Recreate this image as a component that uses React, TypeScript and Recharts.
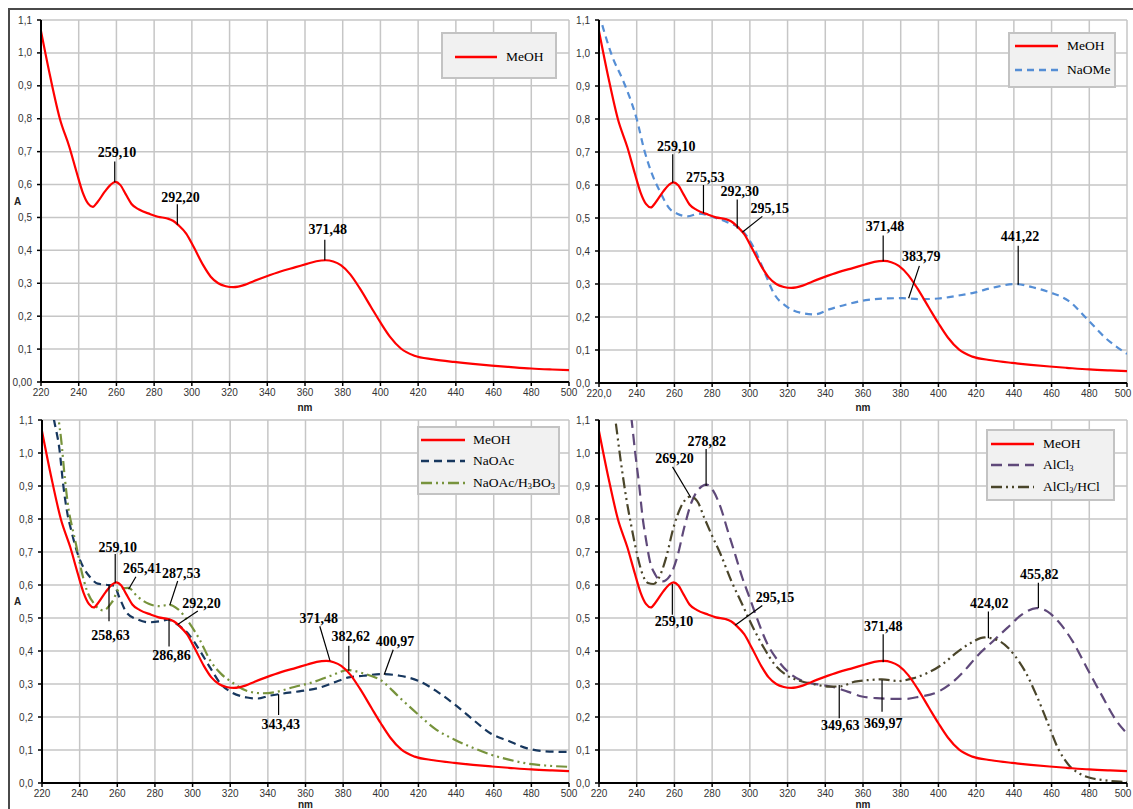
import React from 'react';
import { LineChart, Line, XAxis, YAxis, CartesianGrid, ReferenceLine, ReferenceDot } from 'recharts';

// ---------- axis ticks ----------
const xTicks = [220, 240, 260, 280, 300, 320, 340, 360, 380, 400, 420, 440, 460, 480, 500];
const yTicks = [0, 0.1, 0.2, 0.3, 0.4, 0.5, 0.6, 0.7, 0.8, 0.9, 1.0, 1.1];

// ---------- spectra (nm, absorbance) ----------
const meohNm = [220, 225, 230, 235, 239, 242, 245, 247.5, 250, 254, 257, 259.5, 262, 265, 268, 272, 278, 282, 287, 290, 293, 297, 301, 306, 310, 314, 318, 322, 328, 333, 339, 347, 355, 361, 366, 371, 375, 379, 384, 389, 395, 400, 405, 411, 418, 428, 439, 449, 459, 468, 480, 491, 500];
const meohAbs = [1.066, 0.925, 0.8, 0.715, 0.635, 0.578, 0.542, 0.532, 0.547, 0.58, 0.6, 0.608, 0.599, 0.57, 0.541, 0.524, 0.51, 0.502, 0.497, 0.49, 0.476, 0.451, 0.41, 0.355, 0.32, 0.3, 0.291, 0.288, 0.295, 0.307, 0.32, 0.336, 0.349, 0.359, 0.367, 0.37, 0.366, 0.355, 0.327, 0.285, 0.228, 0.181, 0.138, 0.101, 0.08, 0.069, 0.061, 0.055, 0.05, 0.046, 0.041, 0.038, 0.036];

const naomeNm = [220, 223, 227, 232.5, 236, 240, 244, 248, 252, 257.5, 261.5, 267, 273, 280.5, 288, 296, 302, 307.5, 313, 319, 327, 334.5, 342, 352, 361.5, 371, 381, 390, 400, 409.5, 419, 429, 441, 450, 459.5, 469, 479, 488.5, 500];
const naomeAbs = [1.12, 1.06, 0.99, 0.92, 0.87, 0.8, 0.706, 0.635, 0.584, 0.528, 0.513, 0.505, 0.513, 0.503, 0.487, 0.462, 0.411, 0.34, 0.269, 0.234, 0.213, 0.208, 0.223, 0.239, 0.251, 0.256, 0.257, 0.254, 0.256, 0.264, 0.274, 0.289, 0.3, 0.29, 0.274, 0.249, 0.193, 0.137, 0.088];

const naoacNm = [224, 226.4, 229.3, 231.2, 233.2, 236, 239, 242, 245.7, 249.6, 255.4, 258.3, 261.2, 265, 271, 276.7, 282.5, 287, 292, 298, 304, 309.5, 315.3, 321, 329, 334.7, 340.5, 348, 358, 367.6, 375.3, 383, 390.8, 400.4, 410, 419.8, 429.4, 439, 448.8, 458.4, 468, 477.8, 487.5, 500];
const naoacAbs = [1.18, 1.1, 1.01, 0.907, 0.826, 0.755, 0.694, 0.653, 0.623, 0.604, 0.6, 0.598, 0.561, 0.516, 0.495, 0.487, 0.49, 0.495, 0.48, 0.45, 0.4, 0.348, 0.298, 0.274, 0.259, 0.256, 0.264, 0.271, 0.279, 0.289, 0.305, 0.32, 0.325, 0.33, 0.325, 0.31, 0.279, 0.239, 0.193, 0.15, 0.127, 0.105, 0.096, 0.094];

const boricNm = [227, 228.9, 230.2, 232.2, 234.1, 236, 238, 240.9, 243.8, 247.7, 252.5, 257.3, 261.2, 266, 270.9, 276.7, 282.5, 287.5, 292, 298, 304, 309.5, 315.3, 321, 329, 336.6, 343.4, 354, 363.7, 373.4, 382.6, 390.8, 400.4, 410, 419.8, 429.4, 439, 448.8, 458.4, 468, 477.8, 487.5, 500];
const boricAbs = [1.22, 1.1, 1.04, 0.92, 0.83, 0.776, 0.725, 0.645, 0.584, 0.543, 0.523, 0.549, 0.589, 0.591, 0.564, 0.543, 0.536, 0.54, 0.528, 0.487, 0.432, 0.37, 0.33, 0.305, 0.279, 0.272, 0.275, 0.291, 0.305, 0.325, 0.342, 0.332, 0.31, 0.259, 0.208, 0.162, 0.132, 0.107, 0.086, 0.071, 0.059, 0.053, 0.049];

const alcl3Nm = [236, 237.3, 239.2, 241.2, 243.1, 245, 247, 249.8, 253.7, 257.5, 261.4, 265.2, 269, 272.9, 277, 280.6, 284.5, 288.3, 292.2, 296, 299.9, 303.7, 309.5, 315.3, 321, 326.8, 332.6, 338.4, 344.1, 351.8, 359.5, 367.2, 374.9, 382.6, 390.3, 398, 405.7, 413.4, 421.1, 428.8, 436.5, 444.2, 452, 457.7, 463.5, 471.2, 478.8, 486.5, 494.2, 500];
const alcl3Abs = [1.16, 1.1, 1.0, 0.908, 0.806, 0.735, 0.672, 0.632, 0.611, 0.627, 0.683, 0.774, 0.85, 0.89, 0.904, 0.885, 0.835, 0.764, 0.693, 0.622, 0.561, 0.5, 0.419, 0.368, 0.333, 0.312, 0.302, 0.297, 0.291, 0.277, 0.262, 0.257, 0.255, 0.255, 0.262, 0.272, 0.297, 0.338, 0.388, 0.429, 0.47, 0.51, 0.53, 0.52, 0.49, 0.429, 0.348, 0.267, 0.19, 0.15];

const alhclNm = [227, 228.7, 231.5, 234.4, 237.3, 240.2, 243.1, 246, 248.9, 251.8, 255.6, 259.5, 263.3, 268.5, 272, 275.8, 279.6, 284.5, 290.2, 296, 301.8, 307.5, 313.3, 319.1, 326.8, 334.5, 342.2, 348, 355.7, 363.4, 370, 378.7, 386.4, 394, 401.7, 409.4, 417.1, 424.5, 432.7, 440.2, 446, 451.9, 457.7, 463.5, 469.2, 475, 480.8, 488.5, 496.2, 500];
const alhclAbs = [1.17, 1.1, 0.977, 0.865, 0.774, 0.693, 0.632, 0.606, 0.603, 0.622, 0.683, 0.774, 0.835, 0.868, 0.855, 0.804, 0.754, 0.693, 0.612, 0.541, 0.47, 0.409, 0.358, 0.328, 0.309, 0.299, 0.292, 0.293, 0.307, 0.312, 0.314, 0.309, 0.317, 0.333, 0.358, 0.394, 0.424, 0.441, 0.429, 0.388, 0.338, 0.267, 0.186, 0.104, 0.054, 0.028, 0.015, 0.008, 0.004, 0.003];

// ---------- peak annotations: [label, pointNm, pointAbs, lineEndNm, lineEndAbs, textNm, textAbs] ----------
type Note = [string, number, number, number, number, number, number];
const notesTL: Note[] = [
  ['259,10', 259.1, 0.607, 259.1, 0.67, 260.3, 0.697],
  ['292,20', 292.3, 0.478, 292.3, 0.54, 294, 0.562],
  ['371,48', 370.5, 0.37, 370.5, 0.432, 372, 0.463],
];
const notesTR: Note[] = [
  ['259,10', 259.1, 0.607, 259.1, 0.693, 261, 0.716],
  ['275,53', 275.4, 0.515, 275.4, 0.6, 276.4, 0.624],
  ['292,30', 293.3, 0.468, 293.3, 0.556, 294.7, 0.58],
  ['295,15', 296, 0.457, 306.6, 0.505, 310.5, 0.529],
  ['371,48', 370.7, 0.369, 370.7, 0.447, 371.7, 0.474],
  ['383,79', 384.2, 0.257, 389.9, 0.355, 390.9, 0.383],
  ['441,22', 442.3, 0.298, 442.3, 0.416, 443.2, 0.444],
];
const notesBL: Note[] = [
  ['259,10', 258.9, 0.607, 258.9, 0.694, 260.2, 0.714],
  ['265,41', 266, 0.587, 269.9, 0.625, 273.2, 0.651],
  ['287,53', 287.9, 0.539, 292.1, 0.612, 294, 0.635],
  ['292,20', 292.1, 0.48, 302.8, 0.521, 304.7, 0.544],
  ['258,63', 255.6, 0.6, 255.6, 0.49, 256.4, 0.447],
  ['286,86', 287.5, 0.496, 287.5, 0.414, 288.8, 0.387],
  ['371,48', 373, 0.371, 367.6, 0.475, 367, 0.5],
  ['382,62', 383, 0.34, 383, 0.416, 384, 0.443],
  ['400,97', 401.8, 0.328, 406.6, 0.404, 407.6, 0.43],
  ['343,43', 345.7, 0.269, 345.7, 0.206, 346.9, 0.176],
];
const notesBR: Note[] = [
  ['278,82', 276.8, 0.9, 276.8, 1.012, 277.2, 1.035],
  ['269,20', 268.7, 0.865, 259, 0.958, 260, 0.982],
  ['295,15', 292.2, 0.478, 306.6, 0.538, 313.3, 0.561],
  ['259,10', 258.9, 0.603, 258.9, 0.51, 259.8, 0.49],
  ['371,48', 370.7, 0.366, 370.7, 0.451, 370.7, 0.475],
  ['349,63', 347.4, 0.297, 347.4, 0.196, 348, 0.173],
  ['369,97', 370.1, 0.312, 370.1, 0.216, 370.7, 0.181],
  ['424,02', 426.5, 0.439, 426.5, 0.52, 426.9, 0.543],
  ['455,82', 453, 0.53, 453, 0.607, 453.4, 0.632],
];

// ---------- series definitions ----------
type Series = { name: string; nm: number[]; abs: number[]; color: string; dash?: string };
const MEOH: Series = { name: 'MeOH', nm: meohNm, abs: meohAbs, color: '#FF0000' };
const NAOME: Series = { name: 'NaOMe', nm: naomeNm, abs: naomeAbs, color: '#558ED5', dash: '7 5' };
const NAOAC: Series = { name: 'NaOAc', nm: naoacNm, abs: naoacAbs, color: '#17375E', dash: '8 5' };
const BORIC: Series = { name: 'NaOAc/H3BO3', nm: boricNm, abs: boricAbs, color: '#77933C', dash: '11 4 2 4 2 4' };
const ALCL3: Series = { name: 'AlCl3', nm: alcl3Nm, abs: alcl3Abs, color: '#5F497A', dash: '11 6' };
const ALHCL: Series = { name: 'AlCl3/HCl', nm: alhclNm, abs: alhclAbs, color: '#4A452A', dash: '11 4 2 4 2 4' };

const toData = (s: Series) => s.nm.map((x, i) => ({ x, y: s.abs[i] }));

const SANS = 'Arial, "Liberation Sans", sans-serif';
const SERIF = '"Liberation Serif", "Times New Roman", serif';

function Chem({ text }: { text: string }) {
  const parts = text.split(/(\d)/);
  return (
    <>
      {parts.map((p, i) =>
        /\d/.test(p) ? (
          <sub key={i} style={{ fontSize: '0.62em', verticalAlign: '-0.2em', lineHeight: 0 }}>{p}</sub>
        ) : (
          <span key={i}>{p}</span>
        )
      )}
    </>
  );
}

type LegendCfg = { left: number; top: number; w: number; h: number; rows: number[]; lineX: number; lineW: number; textX: number };

function LegendBox({ cfg, items }: { cfg: LegendCfg; items: Series[] }) {
  return (
    <div
      style={{
        position: 'absolute', left: cfg.left, top: cfg.top, width: cfg.w, height: cfg.h,
        background: '#f1f1f1', border: '2px solid #c3c3c3', boxSizing: 'border-box',
      }}
    >
      {items.map((s, i) => (
        <div key={s.name} style={{ position: 'absolute', left: 0, top: cfg.rows[i] - 2 - 10, height: 20, width: '100%' }}>
          <svg style={{ position: 'absolute', left: cfg.lineX - 2, top: 0 }} width={cfg.lineW} height={20}>
            <line x1={0} y1={10} x2={cfg.lineW} y2={10} stroke={s.color} strokeWidth={2.5} strokeDasharray={s.dash} />
          </svg>
          <span style={{ position: 'absolute', left: cfg.textX - 2, top: 0, lineHeight: '20px', fontFamily: SERIF, fontSize: 13.5, color: '#000', whiteSpace: 'nowrap' }}>
            <Chem text={s.name} />
          </span>
        </div>
      ))}
    </div>
  );
}

type PanelCfg = {
  left: number; top: number; w: number; h: number;
  mr: number; yw: number; xh: number; nmOffset: number;
  zeroLabel: string; firstX: string; showA: boolean; lastShift: number;
};

function Panel({ cfg, series, notes }: { cfg: PanelCfg; series: Series[]; notes: Note[] }) {
  const yFmt = (v: number) => (v === 0 ? cfg.zeroLabel : v.toFixed(1).replace('.', ','));
  const xFmt = (v: number) => (v === 220 ? cfg.firstX : String(v));
  const xTick = (p: any) => {
    const v = p.payload.value;
    const dx = v === 500 ? cfg.lastShift : 0;
    return (
      <text x={p.x + dx} y={p.y} dy="0.71em" textAnchor="middle"
        style={{ fontSize: 10, fill: '#333', fontFamily: SANS }}>
        {xFmt(v)}
      </text>
    );
  };
  return (
    <div style={{ position: 'absolute', left: cfg.left, top: cfg.top }}>
      <LineChart width={cfg.w} height={cfg.h} margin={{ top: 12, right: cfg.mr, bottom: 0, left: 0 }}>
        <CartesianGrid stroke="#c6c6c6" strokeWidth={1.5} />
        <XAxis
          type="number" dataKey="x" domain={[220, 500]} ticks={xTicks} interval={0} allowDataOverflow
          height={cfg.xh} tick={xTick}
          axisLine={{ stroke: '#000', strokeWidth: 2 }} tickLine={{ stroke: '#000', strokeWidth: 1.5 }}
          tickSize={4} tickMargin={3}
          label={{ value: 'nm', position: 'insideBottom', offset: cfg.nmOffset, style: { fontSize: 10, fontWeight: 700, fill: '#222', fontFamily: SANS } }}
        />
        <YAxis
          type="number" domain={[0, 1.1]} ticks={yTicks} interval={0} allowDataOverflow
          width={cfg.yw} tickFormatter={yFmt}
          tick={{ fontSize: 10, fill: '#333', fontFamily: SANS }}
          axisLine={{ stroke: '#000', strokeWidth: 2 }} tickLine={{ stroke: '#000', strokeWidth: 1.5 }}
          tickSize={4} tickMargin={5}
          label={cfg.showA ? { value: 'A', position: 'insideLeft', offset: 6, style: { fontSize: 10, fontWeight: 700, fill: '#222', fontFamily: SANS } } : undefined}
        />
        {series.map((s) => (
          <Line
            key={s.name} data={toData(s)} dataKey="y" type="monotone" stroke={s.color} strokeWidth={2.2}
            strokeDasharray={s.dash} dot={false} activeDot={false} isAnimationActive={false}
          />
        ))}
        {notes.map((n, i) => (
          <ReferenceLine
            key={'l' + i} segment={[{ x: n[1], y: n[2] }, { x: n[3], y: n[4] }]}
            stroke="#000" strokeWidth={1.2} ifOverflow="visible"
          />
        ))}
        {notes.map((n, i) => (
          <ReferenceDot
            key={'t' + i} x={n[5]} y={n[6]} r={0} ifOverflow="visible"
            shape={(p: any) => (
              <text x={p.cx} y={p.cy} textAnchor="middle" dominantBaseline="central"
                style={{ fontFamily: SERIF, fontWeight: 700, fontSize: 14, fill: '#000' }}>
                {n[0]}
              </text>
            )}
          />
        ))}
      </LineChart>
    </div>
  );
}

const cfgTL: PanelCfg = { left: 8, top: 8, w: 570, h: 412, mr: 9, yw: 33, xh: 38, nmOffset: 9.5, zeroLabel: '0,00', firstX: '220', showA: true, lastShift: 0 };
const cfgTR: PanelCfg = { left: 574, top: 8, w: 559, h: 412, mr: 6, yw: 25, xh: 37, nmOffset: 9.5, zeroLabel: '0,0', firstX: '220,0', showA: false, lastShift: -4 };
const cfgBL: PanelCfg = { left: 8, top: 408, w: 570, h: 401, mr: 9, yw: 34, xh: 26, nmOffset: 1, zeroLabel: '0,0', firstX: '220', showA: true, lastShift: 0 };
const cfgBR: PanelCfg = { left: 574, top: 408, w: 559, h: 401, mr: 6, yw: 25, xh: 26, nmOffset: 1, zeroLabel: '0,0', firstX: '220', showA: false, lastShift: -4 };

const legTL: LegendCfg = { left: 441, top: 32, w: 116, h: 47, rows: [25], lineX: 14, lineW: 42, textX: 65 };
const legTR: LegendCfg = { left: 1008, top: 32, w: 108, h: 56, rows: [14, 38], lineX: 7, lineW: 43, textX: 59 };
const legBL: LegendCfg = { left: 417, top: 426, w: 143, h: 69, rows: [14, 35, 57], lineX: 4, lineW: 44, textX: 56 };
const legBR: LegendCfg = { left: 986, top: 429, w: 129, h: 72, rows: [15, 36, 58], lineX: 5, lineW: 43, textX: 57 };

export default function App() {
  return (
    <div style={{ position: 'fixed', left: 0, top: 0, width: 1133, height: 809, overflow: 'hidden', background: '#fff' }}>
      <div style={{ position: 'absolute', left: 8, top: 8, width: 1125, height: 2, background: '#4a4a4a' }} />
      <div style={{ position: 'absolute', left: 8, top: 8, width: 2, height: 801, background: '#4a4a4a' }} />
      <Panel cfg={cfgTL} series={[MEOH]} notes={notesTL} />
      <Panel cfg={cfgTR} series={[NAOME, MEOH]} notes={notesTR} />
      <Panel cfg={cfgBL} series={[NAOAC, BORIC, MEOH]} notes={notesBL} />
      <Panel cfg={cfgBR} series={[ALCL3, ALHCL, MEOH]} notes={notesBR} />
      <LegendBox cfg={legTL} items={[MEOH]} />
      <LegendBox cfg={legTR} items={[MEOH, NAOME]} />
      <LegendBox cfg={legBL} items={[MEOH, NAOAC, BORIC]} />
      <LegendBox cfg={legBR} items={[MEOH, ALCL3, ALHCL]} />
    </div>
  );
}
